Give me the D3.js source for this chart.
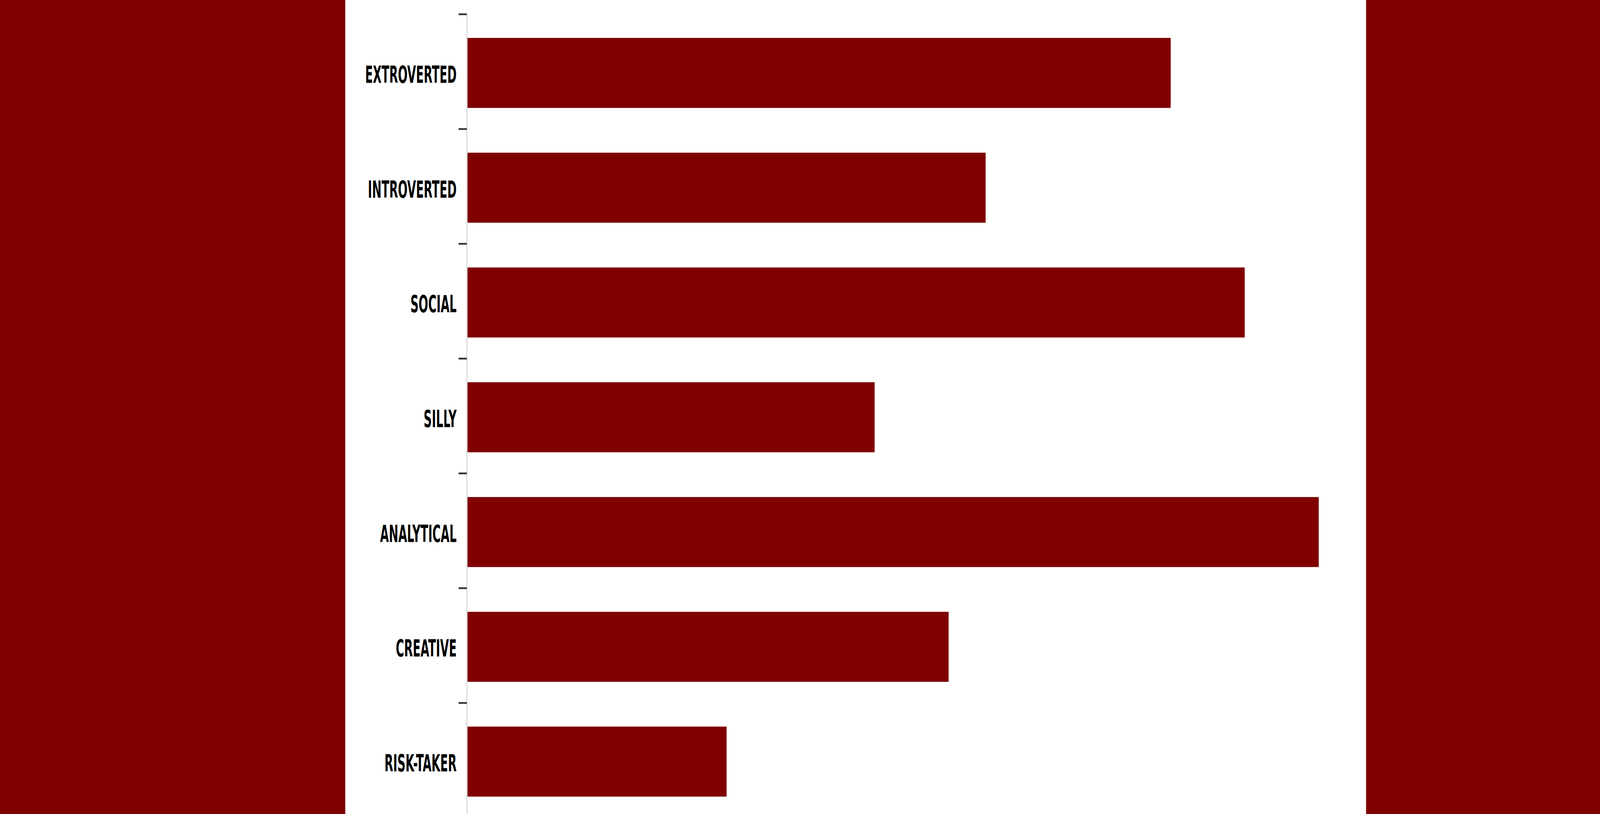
<!DOCTYPE html>
<html>
<head>
<meta charset="utf-8">
<script src="https://cdn.jsdelivr.net/npm/d3@7"></script>
<style>
  html, body { margin: 0; padding: 0; background: #800000; overflow: hidden; }
  svg { display: block; width: 100vw; height: 100vh; }
</style>
</head>
<body>
<svg id="chart"></svg>
<script>
// 1] data ---------------------------------------------
const categories = ["EXTROVERTED", "INTROVERTED", "SOCIAL", "SILLY", "ANALYTICAL", "CREATIVE", "RISK-TAKER"]
const counts = [19, 14, 21, 11, 23, 13, 7]

// 2] settings -----------------------------------------
const width = 5000
const height = 2083
const panelLeft = 1079
const panelRight = 4269
const axisX = 1459
const barColor = "#800000"

// drawn in a 5000 x 2083 frame, stretched onto whatever window we get
const svg = d3.select("#chart")
    .attr("viewBox", `0 0 ${width} ${height}`)
    .attr("preserveAspectRatio", "none")

// white card in the middle
svg.append("rect")
    .attr("x", panelLeft)
    .attr("y", 0)
    .attr("width", panelRight - panelLeft)
    .attr("height", height)
    .attr("fill", "#fff")

// 3] scales -------------------------------------------
const xScale = d3.scaleLinear()
    .domain([0, d3.max(counts)])
    .range([axisX + 2, 4121])

const yScale = d3.scaleBand()
    .domain(categories)
    .range([36.5, 2099])
    .paddingInner(0.39)
    .paddingOuter(0.206)

const slotTop = (d) => yScale(d) - yScale.step() * yScale.paddingOuter()

// 4] axis line + ticks --------------------------------
svg.append("line")
    .attr("x1", axisX).attr("x2", axisX)
    .attr("y1", slotTop(categories[0]))
    .attr("y2", height)
    .attr("stroke", "#dcdcdc")
    .attr("stroke-width", 4)

svg.append("g")
    .selectAll("line")
    .data(categories)
    .join("line")
    .attr("x1", axisX - 26)
    .attr("x2", axisX)
    .attr("y1", (d) => slotTop(d))
    .attr("y2", (d) => slotTop(d))
    .attr("stroke", "#333")
    .attr("stroke-width", 4.5)

// 5] bars ---------------------------------------------
svg.append("g")
    .selectAll("rect")
    .data(categories)
    .join("rect")
    .attr("x", xScale(0))
    .attr("y", (d) => yScale(d))
    .attr("width", (d, i) => xScale(counts[i]) - xScale(0))
    .attr("height", yScale.bandwidth())
    .attr("fill", barColor)

// 6] labels -------------------------------------------
const labels = svg.append("g")
    .selectAll("text")
    .data(categories)
    .join("text")
    .text((d) => d)
    .attr("text-anchor", "end")
    .attr("dominant-baseline", "central")
    .attr("font-family", "'Liberation Sans Narrow', 'DejaVu Sans Condensed', 'Liberation Sans', sans-serif")
    .attr("font-weight", "bold")
    .attr("font-size", 60)
    .attr("fill", "#000")

// squeeze the glyphs so they look like the narrow gothic face of the original
const widest = labels.filter((d) => d === "EXTROVERTED").node().getComputedTextLength()
const squeeze = 286 / widest
labels.attr("transform", (d) => `translate(1427,${yScale(d) + yScale.bandwidth() / 2 + 4}) scale(${squeeze},1)`)
</script>
</body>
</html>
